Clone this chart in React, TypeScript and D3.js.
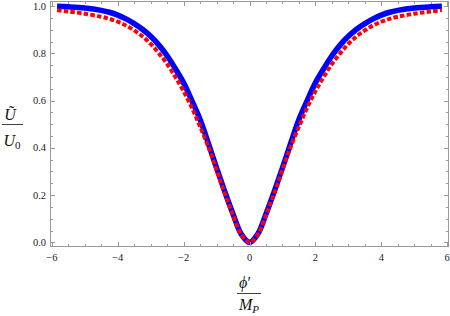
import React from "react";
import * as d3 from "d3";

// Half-profile sample points (|phi'/M_P|), mirrored into full arrays below
const phiHalf = [0, 0.25, 0.5, 0.75, 1.0, 1.25, 1.5, 1.75, 2.0, 2.25, 2.5, 2.75, 3.0, 3.25, 3.5, 3.75, 4.0, 4.25, 4.5, 5.0, 5.5, 5.84];
const blueHalf = [0.0, 0.035, 0.12, 0.215, 0.315, 0.42, 0.52, 0.6, 0.675, 0.735, 0.79, 0.835, 0.872, 0.902, 0.926, 0.946, 0.962, 0.974, 0.982, 0.992, 0.997, 0.999];
const redHalf = [0.0, 0.033, 0.115, 0.207, 0.307, 0.405, 0.49, 0.57, 0.64, 0.7, 0.755, 0.8, 0.84, 0.872, 0.897, 0.918, 0.934, 0.946, 0.955, 0.968, 0.977, 0.983];

const phiValues = [...phiHalf.slice(1).reverse().map((v) => -v), ...phiHalf];
const solidValues = [...blueHalf.slice(1).reverse(), ...blueHalf];
const dashedValues = [...redHalf.slice(1).reverse(), ...redHalf];

const xTicks = [-6, -4, -2, 0, 2, 4, 6];
const xTickLabels = ["\u22126", "\u22124", "\u22122", "0", "2", "4", "6"];
const yTicks = [0, 0.2, 0.4, 0.6, 0.8, 1.0];
const yTickLabels = ["0.0", "0.2", "0.4", "0.6", "0.8", "1.0"];

const W = 450;
const H = 316;
const left = 50.5;
const right = 448.5;
const top = 1.5;
const bottom = 246.5;

export default function App() {
  const x = d3.scaleLinear().domain([-6.04, 6.04]).range([left, right]);
  const y = d3.scaleLinear().domain([-0.0175, 1.0195]).range([bottom, top]);

  const line = (vals: number[]) =>
    d3
      .line<number>()
      .x((_, i) => x(phiValues[i]))
      .y((d) => y(d))
      .curve(d3.curveCatmullRom.alpha(0.5))(vals) || "";

  const xMinor = d3.range(-6, 6.001, 0.5).filter((v) => Math.abs(v % 2) > 1e-6);
  const yMinor = d3.range(0, 1.0001, 0.05).filter((v) => Math.abs(Math.round(v * 100) % 20) > 1e-6);

  const frameColor = "#999";
  const font = "Liberation Serif, DejaVu Serif, Times New Roman, serif";
  const maj = 4.5;
  const min = 2.5;

  return (
    <svg width={W} height={H} style={{ position: "absolute", left: 0, top: 0, background: "#fff" }}>
      <rect x={0} y={0} width={W} height={H} fill="#fff" />
      {/* curves */}
      <path d={line(solidValues)} fill="none" stroke="#0000ff" strokeWidth={5.5} />
      <path d={line(dashedValues)} fill="none" stroke="#ff0000" strokeWidth={4} strokeDasharray="4.5,2.2" />
      {/* frame */}
      <rect x={left} y={top} width={right - left} height={bottom - top} fill="none" stroke={frameColor} strokeWidth={1} />
      {/* x ticks */}
      {xTicks.map((t) => (
        <g key={"xt" + t}>
          <line x1={Math.round(x(t)) + 0.5} x2={Math.round(x(t)) + 0.5} y1={bottom} y2={bottom - maj} stroke={frameColor} />
          <line x1={Math.round(x(t)) + 0.5} x2={Math.round(x(t)) + 0.5} y1={top} y2={top + maj} stroke={frameColor} />
        </g>
      ))}
      {xMinor.map((t) => (
        <g key={"xm" + t}>
          <line x1={Math.round(x(t)) + 0.5} x2={Math.round(x(t)) + 0.5} y1={bottom} y2={bottom - min} stroke={frameColor} />
          <line x1={Math.round(x(t)) + 0.5} x2={Math.round(x(t)) + 0.5} y1={top} y2={top + min} stroke={frameColor} />
        </g>
      ))}
      {/* y ticks */}
      {yTicks.map((t) => (
        <g key={"yt" + t}>
          <line x1={left} x2={left + maj} y1={Math.round(y(t)) + 0.5} y2={Math.round(y(t)) + 0.5} stroke={frameColor} />
          <line x1={right} x2={right - maj} y1={Math.round(y(t)) + 0.5} y2={Math.round(y(t)) + 0.5} stroke={frameColor} />
        </g>
      ))}
      {yMinor.map((t) => (
        <g key={"ym" + t}>
          <line x1={left} x2={left + min} y1={Math.round(y(t)) + 0.5} y2={Math.round(y(t)) + 0.5} stroke={frameColor} />
          <line x1={right} x2={right - min} y1={Math.round(y(t)) + 0.5} y2={Math.round(y(t)) + 0.5} stroke={frameColor} />
        </g>
      ))}
      {/* tick labels */}
      {xTicks.map((t, i) => (
        <text key={"xl" + t} x={x(t)} y={261} textAnchor="middle" style={{ fontFamily: font }} fontSize={10.5} fill="#222">
          {xTickLabels[i]}
        </text>
      ))}
      {yTicks.map((t, i) => (
        <text key={"yl" + t} x={46} y={y(t) + 3.6} textAnchor="end" style={{ fontFamily: font }} fontSize={10.5} fill="#222">
          {yTickLabels[i]}
        </text>
      ))}
      {/* y axis label */}
      <g style={{ fontFamily: font }} fontSize={16} fill="#111">
        <text x={10} y={120} textAnchor="middle" fontStyle="italic">{"\u0168"}</text>
        <line x1={2} x2={23} y1={124.5} y2={124.5} stroke="#111" strokeWidth={0.8} />
        <text x={12} y={146} textAnchor="middle">
          <tspan fontStyle="italic">U</tspan>
          <tspan fontSize={11} dy={3}>0</tspan>
        </text>
      </g>
      {/* x axis label */}
      <g style={{ fontFamily: font }} fontSize={16} fill="#111">
        <text x={245} y={288} textAnchor="middle">
          <tspan fontStyle="italic">{"\u03D5"}</tspan>
          <tspan>{"\u2032"}</tspan>
        </text>
        <line x1={237} x2={261} y1={293.5} y2={293.5} stroke="#111" strokeWidth={0.8} />
        <text x={249} y={310} textAnchor="middle">
          <tspan fontStyle="italic">M</tspan>
          <tspan fontStyle="italic" fontSize={11} dy={3}>P</tspan>
        </text>
      </g>
    </svg>
  );
}
